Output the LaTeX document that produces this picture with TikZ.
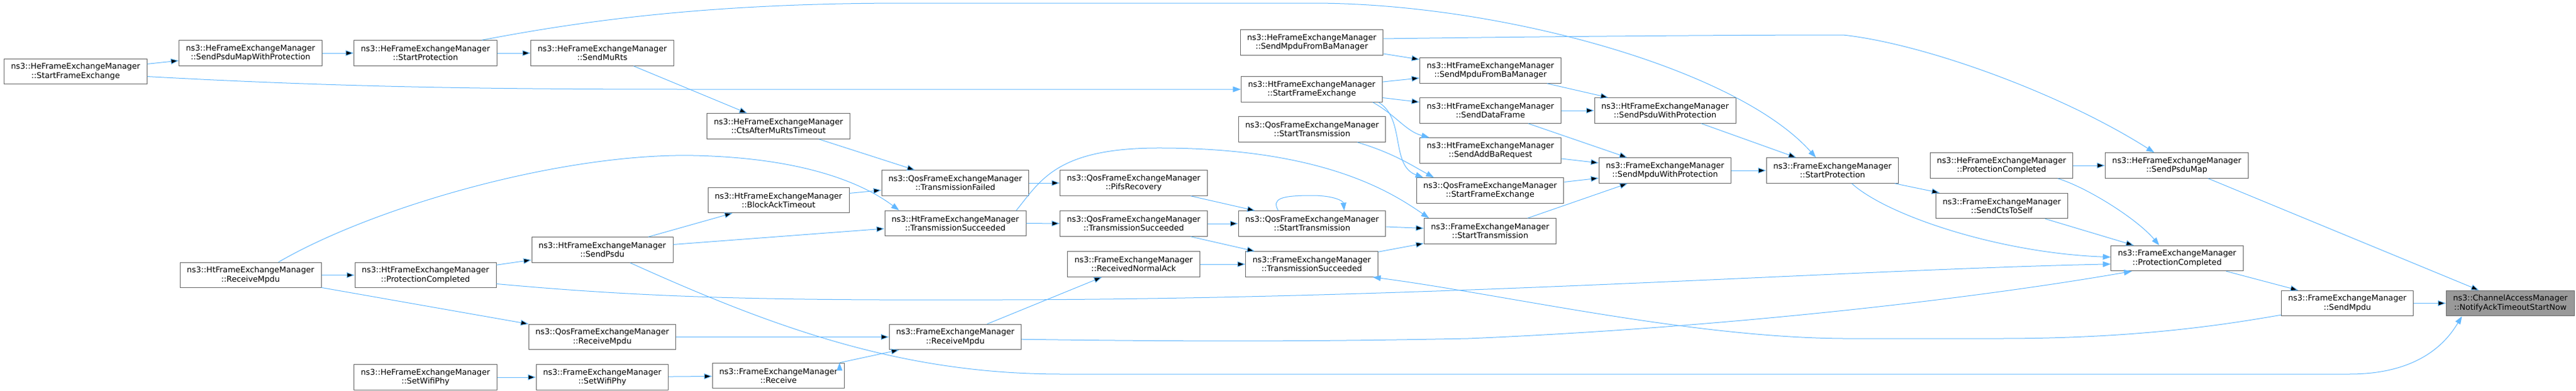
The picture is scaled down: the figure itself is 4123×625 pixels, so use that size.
\documentclass[tikz,border=0pt]{standalone}
\usepackage{fontspec}
\setmainfont{DejaVu Sans}
\usepackage{xcolor}
\usepackage{tikz}
\usetikzlibrary{arrows, arrows.meta}
\definecolor{edgeblue}{HTML}{63B8FF}
\definecolor{boxline}{HTML}{666666}
\definecolor{rootfill}{HTML}{999999}
\tikzset{
  fn/.style={rectangle, draw=boxline, line width=0.75pt, fill=white, align=center,
    minimum height=30.4pt, inner xsep=8.3pt, inner ysep=2pt,
    font=\fontsize{9.56}{10.6}\selectfont},
  root/.style={fill=rootfill},
  call/.style={->, draw=edgeblue, line width=0.75pt},
  >={Triangle[length=9.5pt,width=6.8pt]}
}

\begin{document}
\begin{tikzpicture}[x=0.75pt, y=-0.75pt]

\useasboundingbox (0,0) rectangle (4123,625);

\begin{scope}[every node/.style={fn}]
  \node (hesfe) at (121,114.5) {ns3::HeFrameExchangeManager\\::StartFrameExchange};
  \node (hespmwp) at (401,85) {ns3::HeFrameExchangeManager\\::SendPsduMapWithProtection};
  \node (hesp) at (681,85) {ns3::HeFrameExchangeManager\\::StartProtection};
  \node (hesmr) at (964,85) {ns3::HeFrameExchangeManager\\::SendMuRts};
  \node (hecamt) at (1246,202) {ns3::HeFrameExchangeManager\\::CtsAfterMuRtsTimeout};
  \node (htrm) at (401,440.5) {ns3::HtFrameExchangeManager\\::ReceiveMpdu};
  \node (htpc) at (681,440.5) {ns3::HtFrameExchangeManager\\::ProtectionCompleted};
  \node (heswp) at (681,604) {ns3::HeFrameExchangeManager\\::SetWifiPhy};
  \node (htsp) at (964,400) {ns3::HtFrameExchangeManager\\::SendPsdu};
  \node (qosrm) at (964,539.5) {ns3::QosFrameExchangeManager\\::ReceiveMpdu};
  \node (fswp) at (964,604) {ns3::FrameExchangeManager\\::SetWifiPhy};
  \node (htbat) at (1246,320.5) {ns3::HtFrameExchangeManager\\::BlockAckTimeout};
  \node (fr) at (1246,601.5) {ns3::FrameExchangeManager\\::Receive};
  \node (qostf) at (1529,293) {ns3::QosFrameExchangeManager\\::TransmissionFailed};
  \node (htts) at (1529,357.5) {ns3::HtFrameExchangeManager\\::TransmissionSucceeded};
  \node (frm) at (1529,539.5) {ns3::FrameExchangeManager\\::ReceiveMpdu};
  \node (qospr) at (1814.5,293) {ns3::QosFrameExchangeManager\\::PifsRecovery};
  \node (qosts) at (1814.5,358) {ns3::QosFrameExchangeManager\\::TransmissionSucceeded};
  \node (frna) at (1814.5,423) {ns3::FrameExchangeManager\\::ReceivedNormalAck};
  \node (hesmfbm) at (2099.5,68) {ns3::HeFrameExchangeManager\\::SendMpduFromBaManager};
  \node (htsfe) at (2099.5,143) {ns3::HtFrameExchangeManager\\::StartFrameExchange};
  \node (qosst) at (2100,207) {ns3::QosFrameExchangeManager\\::StartTransmission};
  \node (qosstb) at (2100,358) {ns3::QosFrameExchangeManager\\::StartTransmission};
  \node (fts) at (2099.5,423) {ns3::FrameExchangeManager\\::TransmissionSucceeded};
  \node (htsmfbm) at (2385.5,113) {ns3::HtFrameExchangeManager\\::SendMpduFromBaManager};
  \node (htsdf) at (2385.5,177) {ns3::HtFrameExchangeManager\\::SendDataFrame};
  \node (htsabr) at (2385.5,241) {ns3::HtFrameExchangeManager\\::SendAddBaRequest};
  \node (qossfe) at (2385,305) {ns3::QosFrameExchangeManager\\::StartFrameExchange};
  \node (fst) at (2385,370) {ns3::FrameExchangeManager\\::StartTransmission};
  \node (htspwp) at (2665,177) {ns3::HtFrameExchangeManager\\::SendPsduWithProtection};
  \node (fsmwp) at (2665,273) {ns3::FrameExchangeManager\\::SendMpduWithProtection};
  \node (fsp) at (2933,273) {ns3::FrameExchangeManager\\::StartProtection};
  \node (hepc) at (3203.5,265) {ns3::HeFrameExchangeManager\\::ProtectionCompleted};
  \node (fscts) at (3204,329.5) {ns3::FrameExchangeManager\\::SendCtsToSelf};
  \node (hespm) at (3484,265) {ns3::HeFrameExchangeManager\\::SendPsduMap};
  \node (fpc) at (3484.5,413.5) {ns3::FrameExchangeManager\\::ProtectionCompleted};
  \node (fsm) at (3757,485.5) {ns3::FrameExchangeManager\\::SendMpdu};
  \node[root] (notify) at (4018,485.5) {ns3::ChannelAccessManager\\::NotifyAckTimeoutStartNow};
\end{scope}

\path[call] (hesfe) edge (hespmwp);
\path[call] (hespmwp) edge (hesp);
\path[call] (hesp) edge (hesmr);
\path[call] (hesmr) edge (hecamt);
\path[call] (hecamt) edge (qostf);
\path[call] (htbat) edge (qostf);
\path[call] (htrm) edge (htpc);
\path[call] (htrm) edge (qosrm);
\path[call] (htpc) edge (htsp);
\path[call] (htsp) edge (htbat);
\path[call] (htsp) edge (htts);
\path[call] (heswp) edge (fswp);
\path[call] (fswp) edge (fr);
\path[call] (fr.12) edge (frm.-167);
\path[call] (qosrm) edge (frm);
\path[call] (frm) edge (frna);
\path[call] (qostf) edge (qospr);
\path[call] (htts) edge (qosts);
\path[call] (qospr) edge (qosstb);
\path[call] (qosts) edge (qosstb);
\path[call] (qosts) edge (fts);
\path[call] (frna) edge (fts);
\path[call] (qosstb) edge (fst);
\path[call] (fts) edge (fst);
\path[call] (hesmfbm) edge (htsmfbm);
\path[call] (htsfe) edge (htsmfbm);
\path[call] (htsfe) edge (htsdf);
\path[call] (htsmfbm) edge (htspwp);
\path[call] (htsdf) edge (htspwp);
\path[call] (htsdf) edge (fsmwp);
\path[call] (htsabr) edge (fsmwp);
\path[call] (qossfe) edge (fsmwp);
\path[call] (fst) edge (fsmwp);
\path[call] (htspwp) edge (fsp);
\path[call] (fsmwp) edge (fsp);
\path[call] (fsp) edge (fscts);
\path[call] (fscts) edge (fpc);
\path[call] (hepc) edge (hespm);
\path[call] (hespm) edge (notify);
\path[call] (fpc) edge (fsm);
\path[call] (fsm) edge (notify);

\draw[call] (hesfe.-4) .. controls (550,140) and (800,143) .. (1100,143) -- (htsfe.west);
\draw[call] (hesp.13) .. controls (950,30) and (1150,5) .. (1450,5) -- (2100,5) .. controls (2400,5) and (2780,110) .. (fsp.142);
\draw[call] (htrm.25) .. controls (600,330) and (900,245) .. (1110,249) .. controls (1300,253) and (1390,300) .. (htts.167);
\draw[call] (htpc.-7) .. controls (1050,478) and (1250,481) .. (1600,480) .. controls (2300,479) and (2950,432) .. (fpc.-175);
\draw[call] (htsp.-25) .. controls (1250,530) and (1450,599) .. (1700,599) -- (3760,599) .. controls (3880,599) and (3920,540) .. (notify.-165);
\draw[call] (frm.-2) .. controls (1900,547) and (2100,547) .. (2350,542) .. controls (2750,525) and (3150,480) .. (fpc.-164);
\draw[call] (htts.12) .. controls (1665,290) and (1690,238) .. (1850,237) .. controls (2120,236) and (2230,310) .. (fst.168);
\draw[call] (qosstb.159) .. controls (2035,318) and (2050,313) .. (2100,313) .. controls (2135,313) and (2150,322) .. (qosstb.22);
\draw[call] (fsm.-170) .. controls (3560,520) and (3420,542) .. (3200,542) -- (2950,542) .. controls (2700,540) and (2400,470) .. (fts.-12);
\draw[call] (hesmfbm.3) .. controls (2500,58) and (2800,56) .. (2950,56) .. controls (3080,70) and (3300,150) .. (hespm.150);
\draw[call] (htsfe.-12) .. controls (2235,185) and (2250,210) .. (htsabr.168);
\draw[call] (htsfe.-11) .. controls (2250,190) and (2225,265) .. (qossfe.169);
\draw[call] (qosst.-16) .. controls (2230,245) and (2260,265) .. (qossfe.167);
\draw[call] (fsp.-34) .. controls (3020,345) and (3200,405) .. (fpc.179);
\draw[call] (hepc.-13) .. controls (3340,300) and (3420,350) .. (fpc.144);

\end{tikzpicture}
\end{document}
